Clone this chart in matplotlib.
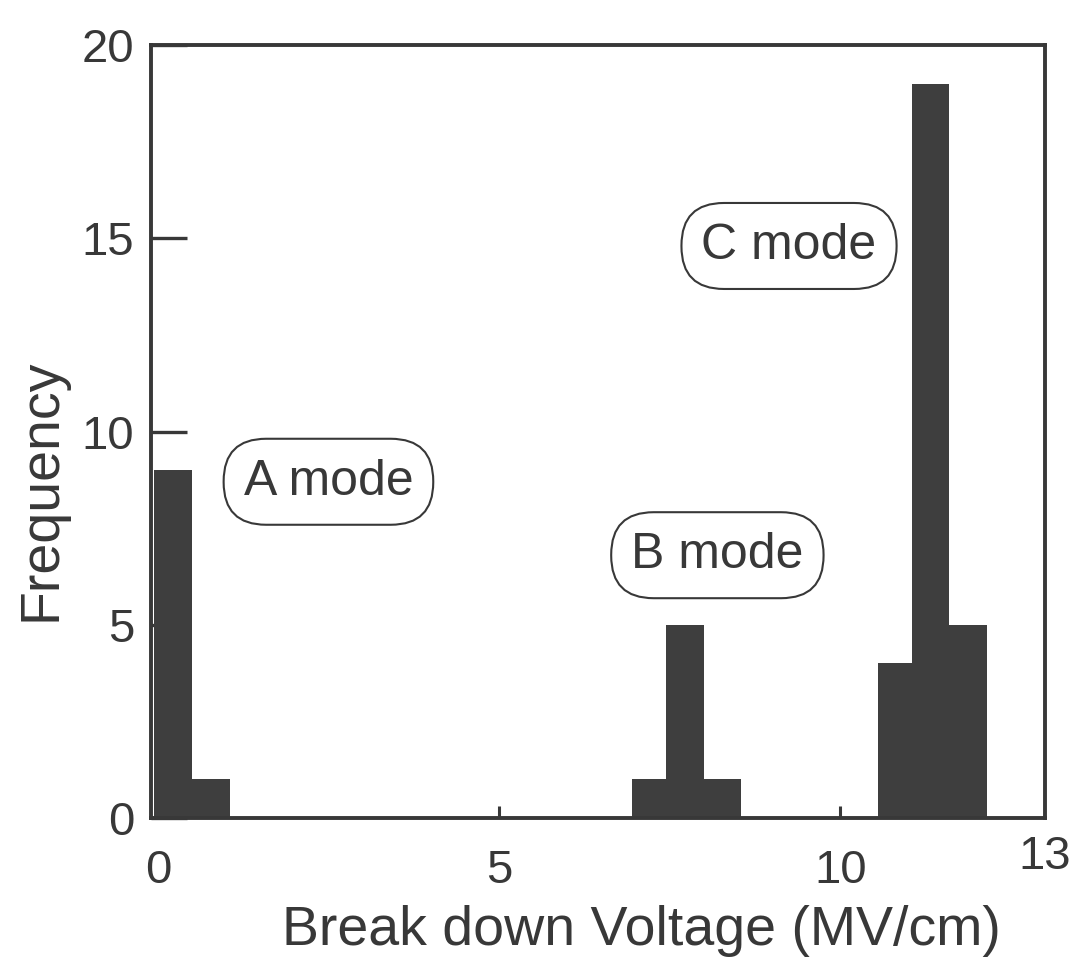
import matplotlib
matplotlib.use("Agg")
import matplotlib.pyplot as plt
from matplotlib.transforms import blended_transform_factory

# histogram bins (MV/cm) and counts
bin_left = [-0.05, 0.5, 6.95, 7.45, 8.0, 10.55, 11.05, 11.6]
bin_right = [0.5, 1.05, 7.45, 8.0, 8.55, 11.05, 11.6, 12.15]
counts = [9, 1, 1, 5, 1, 4, 19, 5]

mode_labels = ["A mode", "B mode", "C mode"]
mode_x = [2.5, 8.2, 9.25]
mode_y = [8.7, 6.8, 14.8]

xticks = [0, 5, 10]
yticks = [0, 5, 10, 15, 20]

ink = "#383838"
bar_color = "#3e3e3e"

plt.rcParams["font.family"] = ["Liberation Sans", "DejaVu Sans"]

fig = plt.figure(figsize=(10.75, 9.57), dpi=100)
ax = fig.add_axes([0.1405, 0.1452, 0.8315, 0.8078])

widths = [r - l for l, r in zip(bin_left, bin_right)]
ax.bar(bin_left, counts, width=widths, align="edge", color=bar_color,
       edgecolor="none", zorder=2)

ax.set_xlim(-0.1, 13)
ax.set_ylim(0, 20)

for s in ax.spines.values():
    s.set_color(ink)
    s.set_linewidth(2.8)
    s.set_zorder(3)

ax.set_xticks(xticks)
ax.set_xticklabels([str(t) for t in xticks])
ax.set_yticks(yticks)
ax.set_yticklabels([str(t) for t in yticks])
ax.tick_params(axis="y", direction="in", length=26, width=2.4, color=ink,
               labelsize=34, labelcolor=ink, pad=12)
ax.tick_params(axis="x", direction="in", length=9, width=2.2, color=ink,
               labelsize=34, labelcolor=ink, pad=22)

# the "13" at the right end sits a little higher than the other labels
trans = blended_transform_factory(ax.transData, ax.transAxes)
ax.text(13, -0.022, "13", transform=trans, ha="center", va="top",
        fontsize=34, color=ink)

ax.set_xlabel("Break down Voltage (MV/cm)", fontsize=40, color=ink)
ax.xaxis.set_label_coords(0.549, -0.112)
ax.set_ylabel("Frequency", fontsize=40, color=ink)
ax.yaxis.set_label_coords(-0.093, 0.424)

for lab, x, y in zip(mode_labels, mode_x, mode_y):
    ax.text(x, y, lab, ha="center", va="center", fontsize=36, color=ink,
            zorder=4,
            bbox=dict(boxstyle="round,pad=0.4,rounding_size=0.85",
                      facecolor="white", edgecolor=ink, linewidth=1.5))

fig.savefig("out.png", dpi=100)
